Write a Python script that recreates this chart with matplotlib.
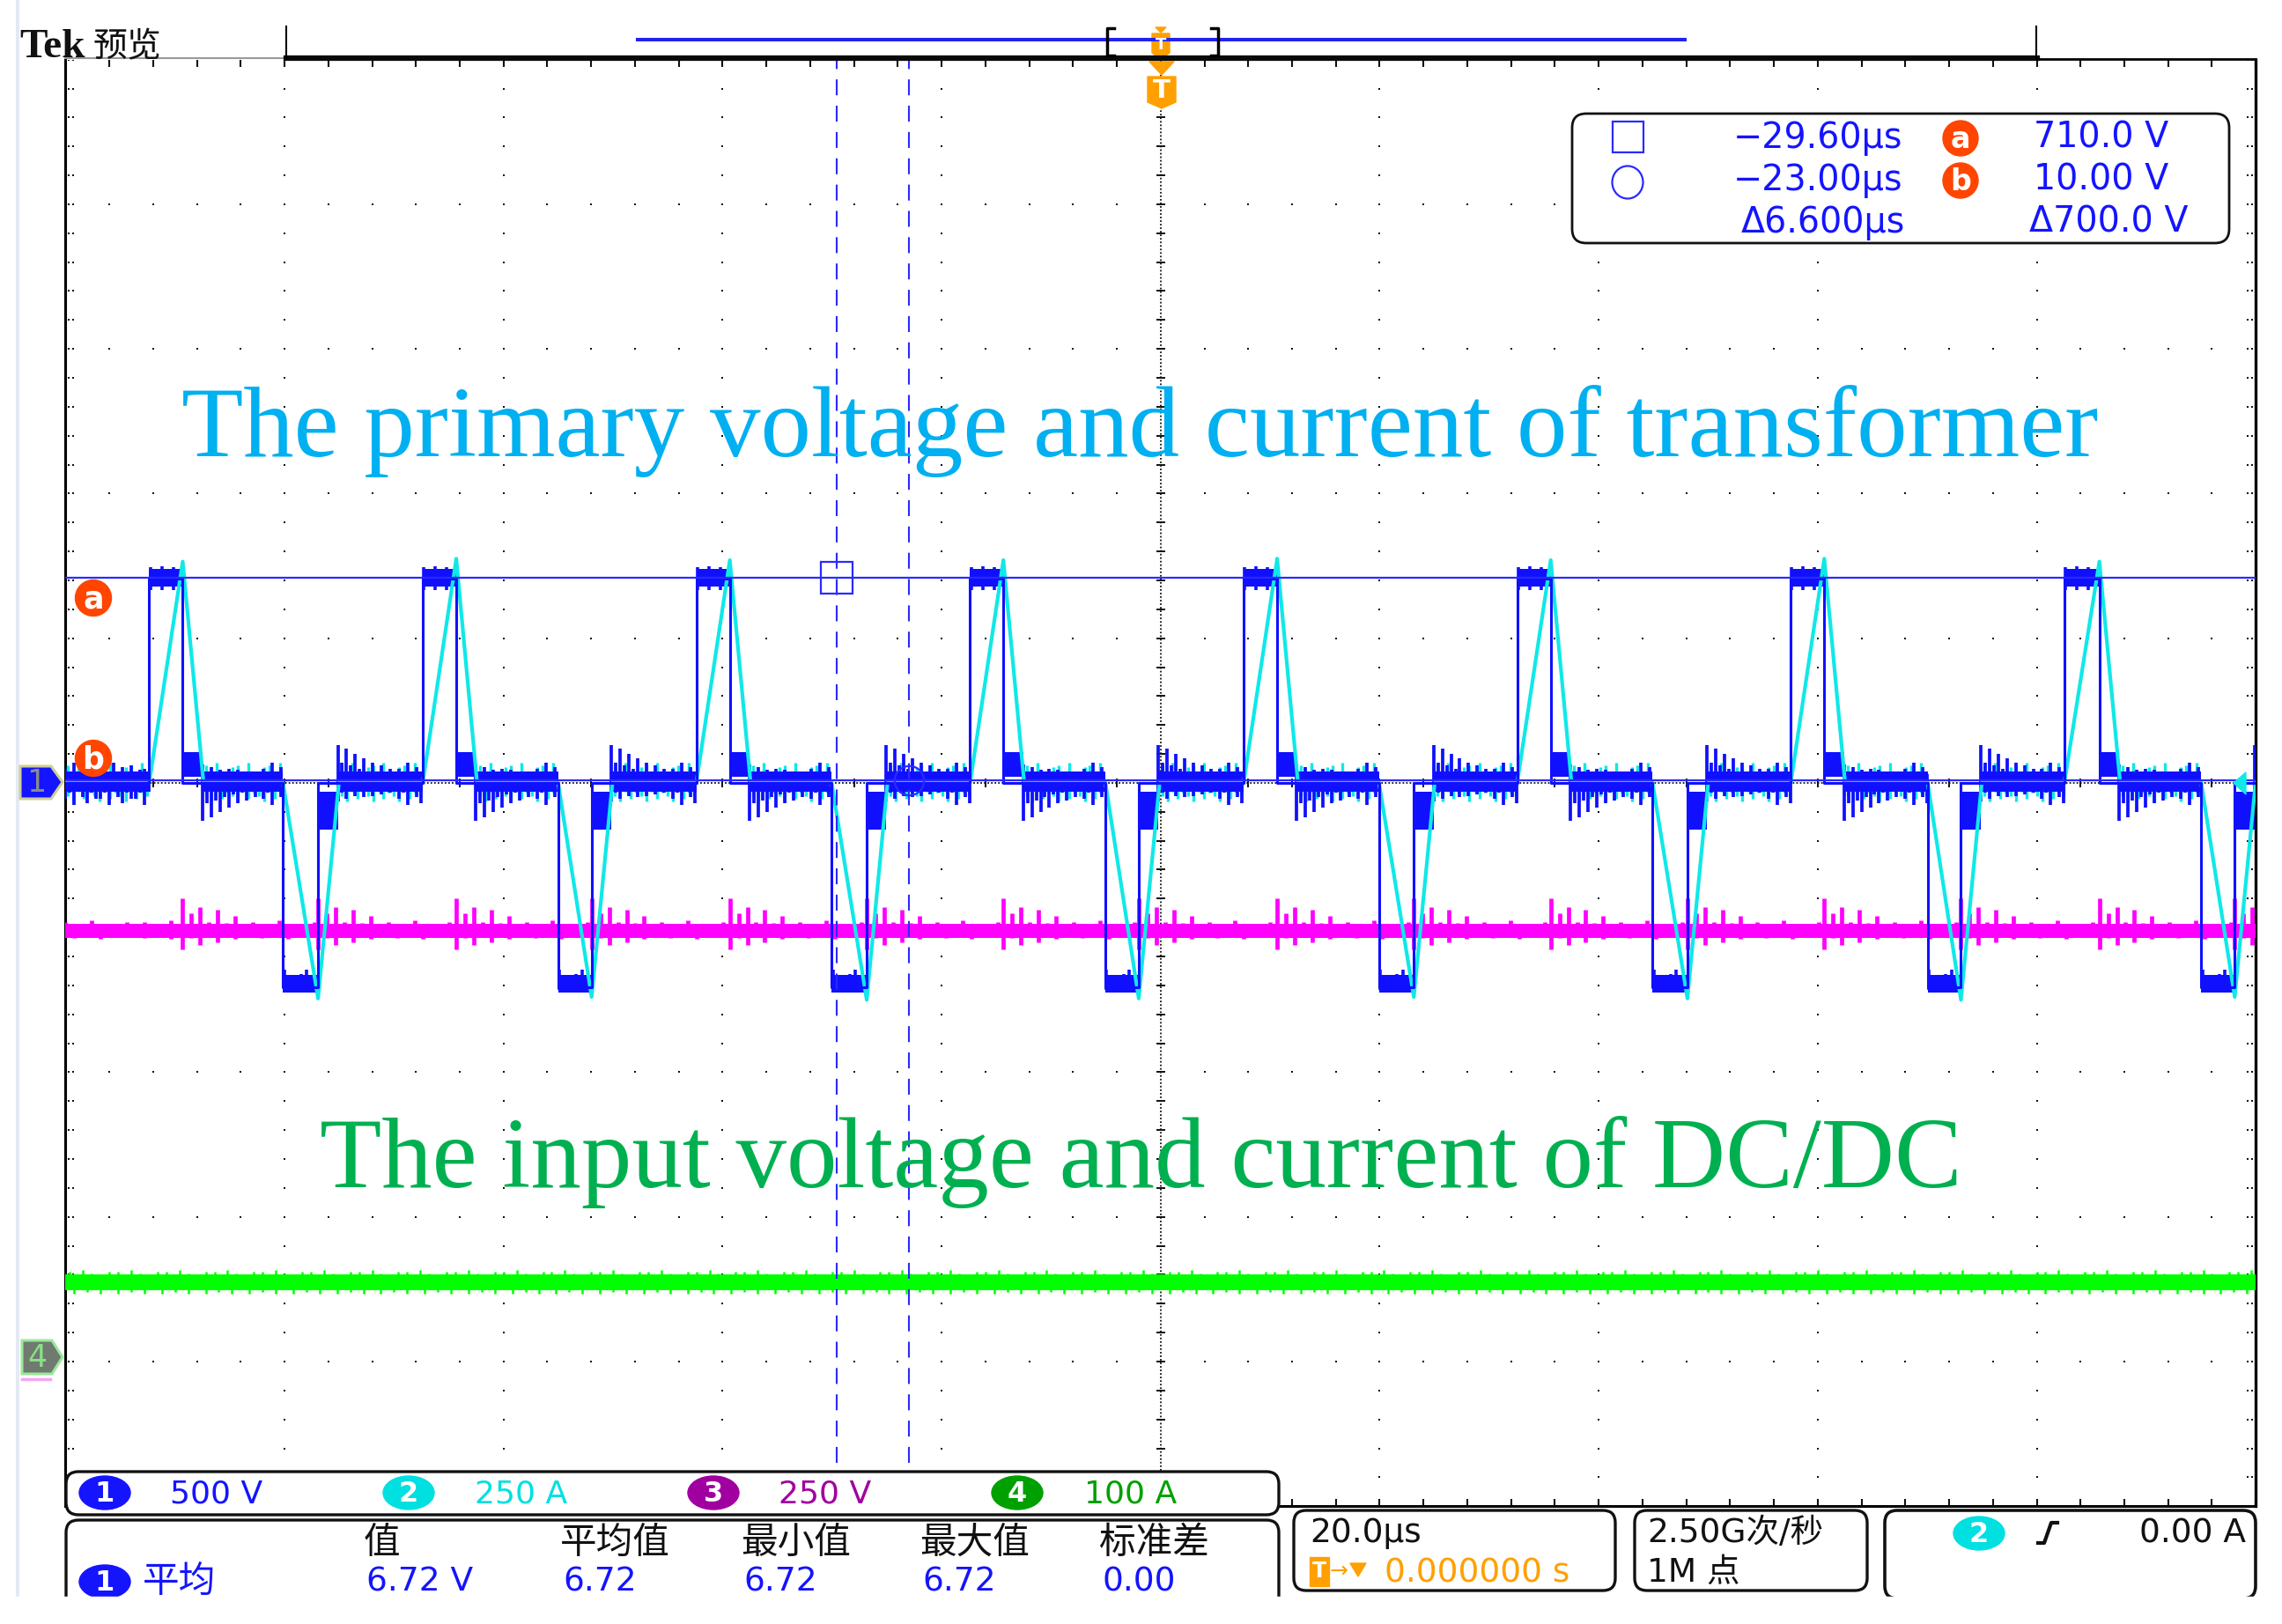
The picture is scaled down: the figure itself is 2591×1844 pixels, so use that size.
import numpy as np
import matplotlib
matplotlib.use("Agg")
import matplotlib.pyplot as plt
from matplotlib.patches import FancyBboxPatch, Polygon, Ellipse, Rectangle

plt.rcParams['font.family'] = ['DejaVu Sans', 'Noto Sans CJK SC']
plt.rcParams['lines.scale_dashes'] = False

# ---------------- data ----------------
# x in divisions (20 us/div, 0 = trigger), y in divisions from screen centre
time_per_div_us = 20.0
ch1_volts_per_div = 500.0
pos_rise = [-4.618, -3.369, -2.120, -0.870, 0.379, 1.628, 2.877, 4.126]
pos_fall = [-4.465, -3.216, -1.967, -0.718, 0.532, 1.781, 3.030, 4.286]
neg_fall = [-4.007, -2.751, -1.502, -0.252, 0.997, 2.246, 3.502, 4.751]
neg_rise = [-3.847, -2.598, -1.342, -0.100, 1.156, 2.405, 3.654, 4.904]
ch1_high = 1.41
ch1_low = -1.41
ch1_ring_div = 0.09
ch2_pos_peak = [1.53, 1.55, 1.54, 1.54, 1.55, 1.54, 1.55, 1.53]
ch2_neg_peak = [-1.49, -1.48, -1.50, -1.49, -1.48, -1.49, -1.50, -1.48]
ch2_return_div = 0.095
ch3_level = -1.02
ch4_level = -3.45
ch4_ground = -4.0

# noise/ringing amplitudes (div)
blue_burst_big = [0.26, 0.14, 0.24, 0.12, 0.20, 0.10, 0.17, 0.08, 0.14, 0.07, 0.12, 0.06, 0.10, 0.06]
blue_burst_small = [0.13, 0.07, 0.11, 0.06, 0.09, 0.05, 0.10, 0.06, 0.09, 0.05, 0.08, 0.05, 0.07, 0.05]
blue_calm_up = [0.10, 0.07, 0.14, 0.08, 0.11, 0.06, 0.12, 0.08, 0.09]
blue_calm_dn = [-0.11, -0.07, -0.15, -0.06, -0.10, -0.14, -0.07, -0.11]
cyan_calm_up = [0.12, 0.06, 0.14, 0.08, 0.05, 0.11]
cyan_calm_dn = [-0.09, -0.13, -0.06, -0.11, -0.07]
mag_burst_up = [0.22, 0.12, 0.16, 0.06, 0.14, 0.05, 0.10, 0.04]
mag_burst_dn = [-0.13, -0.05, -0.10, -0.04, -0.08, -0.02, -0.06, -0.02]
mag_calm_up = [0.06, 0.0, 0.0, 0.07, 0.0, 0.0, 0.0, 0.06, 0.0]
mag_calm_dn = [0.0, -0.05, 0.0, 0.0, -0.06, 0.0, 0.0, -0.04]
grn_calm_up = [0.0, 0.07, 0.0, 0.0, 0.08, 0.0, 0.06, 0.0, 0.0, 0.0, 0.07]
grn_calm_dn = [0.0, 0.0, -0.08, 0.0, 0.0, -0.07, 0.0, 0.0, -0.08, 0.0]

cursor_t_us = [-29.60, -23.00]
cursor_v = [710.0, 10.00]
cursor_t_text = ["\u221229.60\u00b5s", "\u221223.00\u00b5s", "\u03946.600\u00b5s"]
cursor_v_text = ["710.0 V", "10.00 V", "\u0394700.0 V"]
ch_names = ["1", "2", "3", "4"]
ch_scales = ["500 V", "250 A", "250 V", "100 A"]
ch_colors = ["#1414ff", "#00e0e0", "#a000a0", "#00a000"]
meas_headers = ["值", "平均值", "最小值", "最大值", "标准差"]
meas_values = ["6.72 V", "6.72", "6.72", "6.72", "0.00"]
title_top = "The primary voltage and current of transformer"
title_bottom = "The input voltage and current of DC/DC"

BLUE = "#1010ff"
CYAN = "#10e8e8"
MAG = "#ff00ff"
GRN = "#00ff00"
ORANGE_C = "#ff4500"
TRIG = "#ffa000"

W, H = 2591, 1844
fig = plt.figure(figsize=(W / 100, H / 100), dpi=100)
fig.patch.set_facecolor("white")

X0, X1, Y0, Y1 = 74.4, 2561.2, 67.7, 1710.2
ax = fig.add_axes([X0 / W, 1 - Y1 / H, (X1 - X0) / W, (Y1 - Y0) / H])
ax.set_xlim(-5, 5)
ax.set_ylim(-5, 5)
ax.axis("off")
ov = fig.add_axes([0, 0, 1, 1], zorder=5)
ov.set_xlim(0, W)
ov.set_ylim(H, 0)
ov.axis("off")

# ---------------- graticule ----------------
minor = np.round(np.arange(-5, 5.0001, 0.2), 3)
majors = [-4, -3, -2, -1, 1, 2, 3, 4]
gx, gy = [], []
for m in majors:
    for v in minor:
        gx += [m, v]
        gy += [v, m]
ax.plot(gx, gy, ls="none", marker="s", ms=1.9, mew=0, color="#111111", zorder=1)
ax.plot([0, 0], [-5, 5], color="#111111", lw=1.3, ls=(0, (1.3, 1.6)), zorder=1)
ax.plot([-5, 5], [0, 0], color="#111111", lw=1.3, ls=(0, (1.3, 1.6)), zorder=1)
ax.plot([0] * len(minor), minor, ls="none", marker="_", ms=7, mew=1.4, color="#111111", zorder=1)
ax.plot(minor, [0] * len(minor), ls="none", marker="|", ms=7, mew=1.4, color="#111111", zorder=1)
bx_, by_ = [], []
for v in minor:
    bx_ += [-5 + 0.016, -5 + 0.036, 5 - 0.016, 5 - 0.036]
    by_ += [v, v, v, v]
ax.plot(bx_, by_, ls="none", marker="s", ms=1.9, mew=0, color="#111111", zorder=1)
ax.vlines(minor, 4.95, 5.0, color="#111111", lw=1.5, zorder=1)
ax.vlines(minor, -5.0, -4.95, color="#111111", lw=1.5, zorder=1)
ax.plot([-5, -5], [-5, 5], color="k", lw=2.2, clip_on=False, zorder=2)
ax.plot([5, 5], [-5, 5], color="k", lw=2.4, clip_on=False, zorder=2)
ax.plot([-5, 5], [-5, -5], color="k", lw=2.2, clip_on=False, zorder=2)


def comb(sections, ups, dns, base, color, spacing, lw, z, burst_up=None, burst_dn=None, offset=0.0):
    xs, lo, hi = [], [], []
    nb = len(burst_up) if burst_up is not None else 0
    for a, b in sections:
        x = a + offset
        j = 0
        while x < b:
            if j < nb:
                u, d = burst_up[j], burst_dn[j]
            else:
                k = j - nb
                u, d = ups[k % len(ups)], dns[k % len(dns)]
            if u != d:
                xs.append(x)
                lo.append(base + d)
                hi.append(base + u)
            x += spacing
            j += 1
    ax.vlines(xs, lo, hi, colors=color, lw=lw, zorder=z)


# ---------------- channel 4 (green) ----------------
ax.fill_between([-5, 5], ch4_level - 0.055, ch4_level + 0.055, color=GRN, lw=0, zorder=3)
comb([(-5, 5)], grn_calm_up, grn_calm_dn, ch4_level, GRN, 0.02, 1.8, 3)

# ---------------- channel 3 (magenta) ----------------
ax.fill_between([-5, 5], ch3_level - 0.05, ch3_level + 0.045, color=MAG, lw=0, zorder=4)
mag_edges = sorted(pos_fall + neg_rise)
mag_sections = [(mag_edges[i], mag_edges[i + 1] if i + 1 < len(mag_edges) else 5.0) for i in range(len(mag_edges))]
comb([(-5, mag_edges[0])], mag_calm_up, mag_calm_dn, ch3_level, MAG, 0.04, 3.4, 4)
comb(mag_sections, mag_calm_up, mag_calm_dn, ch3_level, MAG, 0.04, 3.4, 4,
     burst_up=mag_burst_up, burst_dn=mag_burst_dn)

# ---------------- channel 2 (cyan) noise under blue ----------------
cy_sections = [(-5, pos_rise[0])]
for i in range(len(pos_rise)):
    cy_sections.append((pos_fall[i] + ch2_return_div, neg_fall[i]))
    nxt = pos_rise[i + 1] if i + 1 < len(pos_rise) else 5.0
    cy_sections.append((neg_rise[i] + ch2_return_div, nxt))
comb(cy_sections, cyan_calm_up, cyan_calm_dn, 0.0, CYAN, 0.024, 2.4, 5, offset=0.012)

# ---------------- channel 1 (blue) ----------------
for r, f in zip(pos_rise, pos_fall):
    ax.fill_between([r, f], 1.36, 1.48, color=BLUE, lw=0, zorder=6)
    ax.fill_between([f, f + ch1_ring_div], 0.04, 0.21, color=BLUE, lw=0, zorder=6)
for f, r in zip(neg_fall, neg_rise):
    ax.fill_between([f, r], -1.45, -1.33, color=BLUE, lw=0, zorder=6)
    ax.fill_between([r, r + ch1_ring_div], -0.32, -0.06, color=BLUE, lw=0, zorder=6)
comb([(r + 0.005, f) for r, f in zip(pos_rise, pos_fall)], [0.07, 0.0, 0.08, 0.0], [-0.09, -0.05, -0.09, -0.06],
     1.42, BLUE, 0.026, 2.6, 6)
comb([(f + 0.005, r) for f, r in zip(neg_fall, neg_rise)], [0.10, 0.05, 0.0, 0.07], [-0.04, 0.0, -0.05, 0.0],
     -1.39, BLUE, 0.026, 2.6, 6)
sec_after_pos = [(pos_fall[i] + ch1_ring_div, neg_fall[i]) for i in range(len(pos_fall))]
sec_after_neg = [(neg_rise[i] + ch1_ring_div, pos_rise[i + 1] if i + 1 < len(pos_rise) else 5.0)
                 for i in range(len(neg_rise))]
zero_secs = [(-5, pos_rise[0])] + sec_after_pos + sec_after_neg
for a, b in zero_secs:
    if b > a:
        ax.fill_between([a, b], -0.06, 0.08, color=BLUE, lw=0, zorder=6)
comb([(-5, pos_rise[0])], blue_calm_up, blue_calm_dn, 0.0, BLUE, 0.02, 2.7, 6)
comb(sec_after_pos, blue_calm_up, blue_calm_dn, 0.0, BLUE, 0.02, 2.7, 6,
     burst_up=blue_burst_small, burst_dn=[-v for v in blue_burst_big])
comb(sec_after_neg, blue_calm_up, blue_calm_dn, 0.0, BLUE, 0.02, 2.7, 6,
     burst_up=blue_burst_big, burst_dn=[-v for v in blue_burst_small])

# cyan current ramps
tri = []
for r, f, p in zip(pos_rise, pos_fall, ch2_pos_peak):
    tri.append((r, f, p))
for f, r, p in zip(neg_fall, neg_rise, ch2_neg_peak):
    tri.append((f, r, p))
tri.sort()
cx, cyv = [-5.0], [0.0]
for s, e, p in tri:
    cx += [s, e, e + ch2_return_div]
    cyv += [0.0, p, 0.0]
cx.append(5.0)
cyv.append(0.0)
ax.plot(cx, cyv, color=CYAN, lw=3.0, zorder=7)

# blue step trace
events = sorted([(t, ch1_high) for t in pos_rise] + [(t, 0.0) for t in pos_fall] +
                [(t, ch1_low) for t in neg_fall] + [(t, 0.0) for t in neg_rise])
sx, sy = [-5.0], [0.0]
for t, lv in events:
    sx += [t, t]
    sy += [sy[-1], lv]
sx.append(5.0)
sy.append(sy[-1])
ax.plot(sx, sy, color=BLUE, lw=2.2, zorder=8)

# ---------------- cursors ----------------
ct = [t / time_per_div_us for t in cursor_t_us]
cv = [v / ch1_volts_per_div for v in cursor_v]
for v in cv:
    ax.plot([-5, 5], [v, v], color="#2a2aff", lw=1.6, zorder=9)
for t in ct:
    ax.plot([t, t], [-4.70, 5], color="#2a2aff", lw=1.5, ls=(0, (13, 8.5)), zorder=9)
ax.plot([ct[0]], [cv[0]], marker="s", ms=26, mfc="none", mec="#2a2aff", mew=1.6, zorder=9)
ax.plot([ct[1]], [cv[1]], marker="o", ms=24, mfc="none", mec="#2a2aff", mew=1.6, zorder=9)

# ---------------- overlay chrome (pixel coordinates) ----------------
ov.plot([20, 20], [0, 1813], color="#e4eaf4", lw=3)
ov.plot([74, 325], [66, 66], color="#9a9a9a", lw=1.5)
ov.plot([325, 2313], [66, 66], color="#0a0a0a", lw=4.5)
ov.plot([2313, 2561], [67.5, 67.5], color="k", lw=2)
ov.plot([325, 325], [30, 66], color="k", lw=1.5)
ov.plot([2312, 2312], [30, 66], color="k", lw=1.5)
ov.plot([724, 1913], [44.6, 44.6], color="#2222ee", lw=2.9)
ov.plot([1265, 1257, 1257, 1265], [32, 32, 63, 63], color="k", lw=2.5)
ov.plot([1375, 1383, 1383, 1375], [32, 32, 63, 63], color="k", lw=2.5)
ov.add_patch(Polygon([(1312, 31), (1324, 31), (1318, 37)], closed=True, color=TRIG))
ov.add_patch(Polygon([(1308, 38), (1328, 38), (1328, 60), (1318, 67), (1308, 60)], closed=True, color=TRIG))
ov.text(1318, 51, "T", color="white", fontsize=13, fontweight="bold", ha="center", va="center")
ov.add_patch(Polygon([(1305, 70), (1333, 70), (1319, 85)], closed=True, color=TRIG))
ov.add_patch(Polygon([(1303, 87), (1335, 87), (1335, 116), (1319, 123), (1303, 116)], closed=True, color=TRIG))
ov.text(1319, 103, "T", color="white", fontsize=21, fontweight="bold", ha="center", va="center")
ov.text(22, 65, "Tek", fontsize=34, fontweight="bold", family="Liberation Serif", va="baseline", color="#111111")
ov.text(106, 64, "预览", fontsize=28, family="Noto Sans CJK SC", va="baseline", color="#111111")

# cursor readout box
ov.add_patch(FancyBboxPatch((1785, 129), 746, 147, boxstyle="round,pad=0,rounding_size=16",
                            fc="white", ec="#111111", lw=2))
ov.add_patch(Rectangle((1831, 138), 35, 35, fill=False, ec="#2a2aff", lw=1.6))
ov.add_patch(Ellipse((1848, 207), 35, 37, fill=False, ec="#2a2aff", lw=1.6))
rows_y = [157, 205, 253]
for i, y in enumerate(rows_y):
    ov.text(2160 if i < 2 else 2163, y, cursor_t_text[i], color="#1414ff", fontsize=28.5, ha="right", va="center")
    ov.text(2462 if i < 2 else 2485, y, cursor_v_text[i], color="#1414ff", fontsize=28.5, ha="right", va="center")
for y, lab in zip(rows_y[:2], ["a", "b"]):
    ov.add_patch(Ellipse((2226, y), 40, 40, color=ORANGE_C))
    ov.text(2226, y + 1, lab, color="white", fontsize=24, fontweight="bold", ha="center", va="center")

# a / b markers at left
for y, lab in [(679, "a"), (861, "b")]:
    ov.add_patch(Ellipse((106, y), 41, 41, color=ORANGE_C, zorder=6))
    ov.text(106, y + 1, lab, color="white", fontsize=25, fontweight="bold", ha="center", va="center", zorder=7)

# channel ground markers
ov.add_patch(Polygon([(23, 870), (58, 870), (71, 888), (58, 907), (23, 907)], closed=True,
                     fc="#1414ff", ec="#cfcf95", lw=2.2, zorder=6))
ov.text(41, 889, "1", color="#8a8a8a", fontsize=25, ha="center", va="center", zorder=7)
ov.add_patch(Polygon([(25, 1522), (59, 1522), (71, 1541), (59, 1560), (25, 1560)], closed=True,
                     fc="#707a70", ec="#9be89b", lw=2.2, zorder=6))
ov.text(42, 1542, "4", color="#88e088", fontsize=25, ha="center", va="center", zorder=7)
ov.plot([25, 57], [1566, 1566], color="#f4a6f4", lw=2.5)
ov.add_patch(Polygon([(2536, 889), (2550, 877), (2550, 902)], closed=True, color=CYAN, zorder=6))

# big annotations
ov.text(206, 518, title_top, family="Liberation Serif", fontsize=82.8, color="#00b0f0", ha="left", va="baseline")
ov.text(363, 1348, title_bottom, family="Liberation Serif", fontsize=82.8, color="#00b050", ha="left", va="baseline")

# bottom: channel scale box
ov.add_patch(FancyBboxPatch((75, 1671), 1377, 49, boxstyle="round,pad=0,rounding_size=14",
                            fc="white", ec="#111111", lw=2.4, zorder=6))
badge_x = [119, 464, 810, 1155]
text_x = [193, 539, 884, 1231]
for bxp, tx, nm, sc, col in zip(badge_x, text_x, ch_names, ch_scales, ch_colors):
    ov.add_patch(Ellipse((bxp, 1695), 58, 38, color=col, zorder=7))
    ov.text(bxp, 1696, nm, color="white", fontsize=23, fontweight="bold", ha="center", va="center", zorder=8)
    ov.text(tx, 1696, sc, color=col, fontsize=26, ha="left", va="center", zorder=8)

# measurement box
ov.add_patch(FancyBboxPatch((75, 1726), 1377, 140, boxstyle="round,pad=0,rounding_size=14",
                            fc="white", ec="#111111", lw=2.4, zorder=6))
head_x = [413, 636, 841, 1044, 1248]
for hx, h in zip(head_x, meas_headers):
    ov.text(hx, 1752, h, color="#111111", fontsize=30, ha="left", va="center", zorder=8)
ov.add_patch(Ellipse((119, 1796), 58, 38, color=ch_colors[0], zorder=7))
ov.text(119, 1797, "1", color="white", fontsize=23, fontweight="bold", ha="center", va="center", zorder=8)
ov.text(162, 1796, "平均", color="#1414ff", fontsize=30, ha="left", va="center", zorder=8)
for hx, v in zip(head_x, meas_values):
    ov.text(hx + 3, 1796, v, color="#1414ff", fontsize=27, ha="left", va="center", zorder=8)

# time base box
ov.add_patch(FancyBboxPatch((1469, 1715), 365, 91, boxstyle="round,pad=0,rounding_size=14",
                            fc="white", ec="#111111", lw=2.4, zorder=6))
ov.text(1487, 1741, "20.0\u00b5s", color="#111111", fontsize=27, ha="left", va="center", zorder=8)
ov.add_patch(Rectangle((1487, 1768), 22, 33, color=TRIG, zorder=7))
ov.text(1498, 1784, "T", color="white", fontsize=17, fontweight="bold", ha="center", va="center", zorder=8)
ov.text(1510, 1784, "\u2192", color=TRIG, fontsize=18, ha="left", va="center", zorder=8)
ov.add_patch(Polygon([(1533, 1775), (1551, 1775), (1542, 1790)], closed=True, color=TRIG, zorder=7))
ov.text(1572, 1786, "0.000000 s", color=TRIG, fontsize=27, ha="left", va="center", zorder=8)

# sample rate box
ov.add_patch(FancyBboxPatch((1856, 1715), 264, 91, boxstyle="round,pad=0,rounding_size=14",
                            fc="white", ec="#111111", lw=2.4, zorder=6))
ov.text(1870, 1741, "2.50G次/秒", color="#111111", fontsize=27, ha="left", va="center", zorder=8)
ov.text(1870, 1786, "1M 点", color="#111111", fontsize=27, ha="left", va="center", zorder=8)

# trigger box
ov.add_patch(FancyBboxPatch((2140, 1715), 421, 100, boxstyle="round,pad=0,rounding_size=14",
                            fc="white", ec="#111111", lw=2.6, zorder=6))
ov.add_patch(Ellipse((2247, 1741), 58, 38, color=ch_colors[1], zorder=7))
ov.text(2247, 1742, "2", color="white", fontsize=23, fontweight="bold", ha="center", va="center", zorder=8)
ov.plot([2314, 2321, 2329, 2336], [1752, 1752, 1729, 1729], color="#111111", lw=3, zorder=8)
ov.text(2550, 1741, "0.00 A", color="#111111", fontsize=27, ha="right", va="center", zorder=8)

# screenshot cut at the bottom
ov.add_patch(Rectangle((0, 1813), W, 40, color="white", zorder=50))

fig.savefig("out.png", dpi=100, facecolor="white")
